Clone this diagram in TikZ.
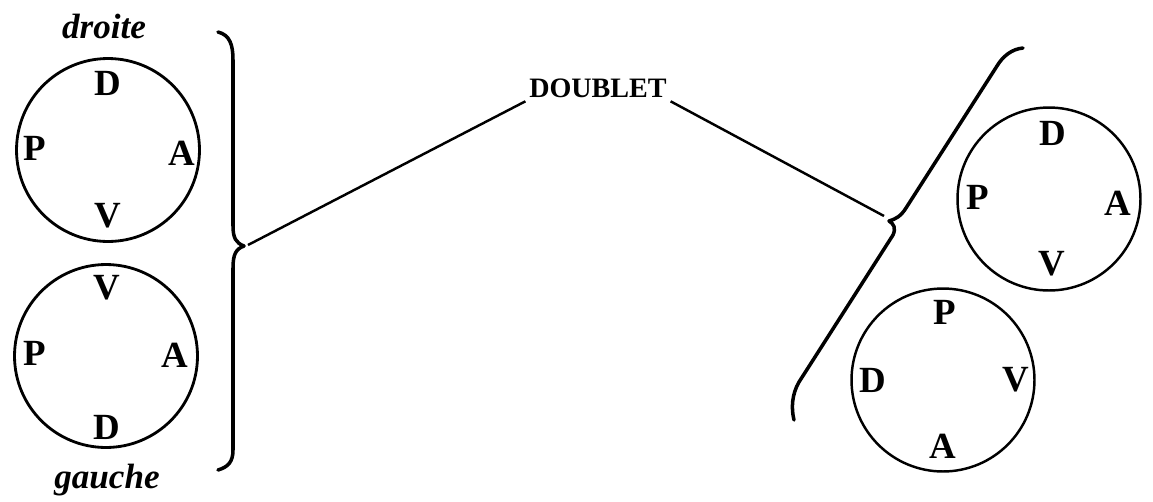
\documentclass[tikz,border=0pt]{standalone}
\usepackage{fontspec}
\setmainfont{Liberation Serif}
\usetikzlibrary{positioning, calc}

\begin{document}
\begin{tikzpicture}[
            x=0.02cm, y=-0.02cm,
            ring/.style={draw, circle, line width=1.6pt, minimum size=3.66cm, inner sep=0pt},
            lettre/.style={font=\fontsize{21}{21}\selectfont\bfseries, inner sep=0pt},
            side/.style={font=\fontsize{20}{20}\selectfont\bfseries\itshape, inner sep=0pt},
            brace/.style={line width=2pt, line cap=round, line join=round},
            link/.style={line width=1.4pt},
        ]
            \useasboundingbox (0,0) rectangle (1153,501);

            % Left pair of circles
            \node[ring] (droiteC) at (108,150) {};
            \node[lettre] (d1) at (108,83) {D};
            \node[lettre] (p1) at (35,148) {P};
            \node[lettre] (a1) at (182,153) {A};
            \node[lettre] (v1) at (108,216) {V};
            \node[side] (droite) at (104,26) {droite};

            \node[ring] (gaucheC) at (106,356) {};
            \node[lettre] (v2) at (107,288) {V};
            \node[lettre] (p2) at (35,353) {P};
            \node[lettre] (a2) at (175,355) {A};
            \node[lettre] (d2) at (107,427) {D};
            \node[side] (gauche) at (107,480) {gauche};

            % Left brace
            \draw[brace] (218,32) .. controls (230,35) and (233,45) .. (233,60)
                -- (233,226) .. controls (233,238) and (236,243) .. (244,246) coordinate (tipL)
                .. controls (236,249) and (233,254) .. (233,268)
                -- (233,450) .. controls (233,462) and (228,467) .. (218,470);

            % Label and connectors
            \node[font=\fontsize{16}{16}\selectfont\bfseries, inner sep=2pt] (doublet) at (598,88) {DOUBLET};
            \coordinate (tipR) at (884,216);
            \draw[link] (tipL) ++(4,-1) coordinate (startL) -- (doublet.south west);
            \draw[link] (doublet.south east) -- (tipR);

            % Right brace
            \draw[brace] (1023,48) .. controls (1012,49) and (1003,56) .. (997,66)
                -- (906,208) .. controls (901,216) and (896,219) .. (889,221)
                .. controls (894,224) and (896,228) .. (893,235)
                -- (799,382) .. controls (792,394) and (791,408) .. (794,420);

            % Right pair of circles
            \node[ring, line width=1.4pt] (hautC) at (1049,199) {};
            \node[lettre] (d3) at (1053,133) {D};
            \node[lettre] (p3) at (978,197) {P};
            \node[lettre] (a3) at (1118,203) {A};
            \node[lettre] (v3) at (1052,264) {V};

            \node[ring, line width=1.4pt] (basC) at (943,380) {};
            \node[lettre] (p4) at (945,312) {P};
            \node[lettre] (d4) at (873,380) {D};
            \node[lettre] (v4) at (1016,380) {V};
            \node[lettre] (a4) at (943,446) {A};
        \end{tikzpicture}
\end{document}
